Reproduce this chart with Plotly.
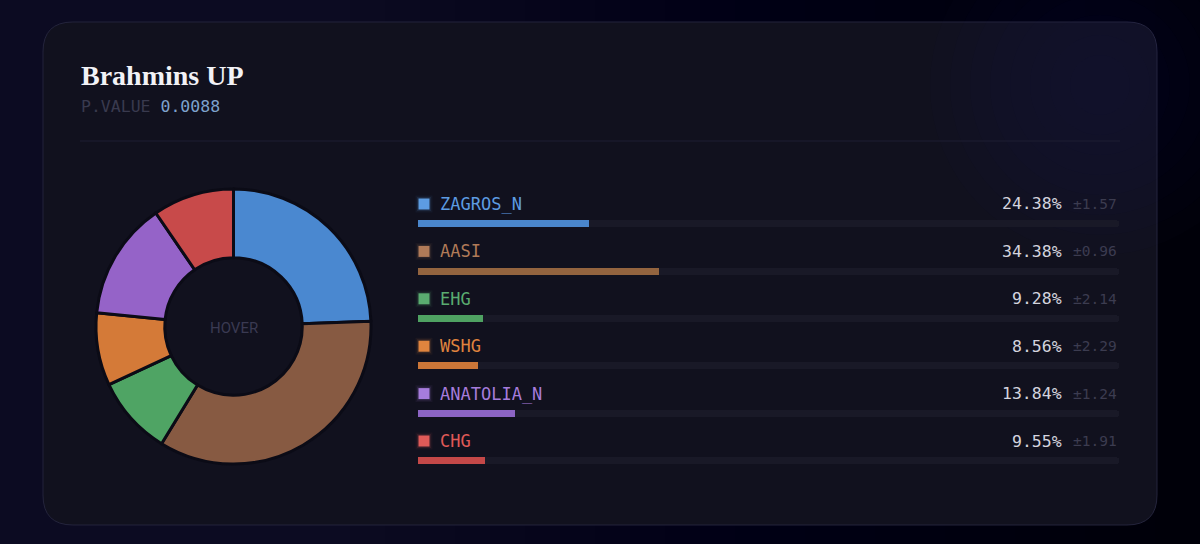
import plotly.graph_objects as go

# ---- data ----
title = "Brahmins UP"
p_value = "0.0088"
components = ["ZAGROS_N", "AASI", "EHG", "WSHG", "ANATOLIA_N", "CHG"]
values = [24.38, 34.38, 9.28, 8.56, 13.84, 9.55]
errors = [1.57, 0.96, 2.14, 2.29, 1.24, 1.91]

# ---- styles ----
slice_colors = ["#4a88d0", "#875a42", "#4fa464", "#d47a38", "#9563c8", "#c84a4a"]
bar_colors = ["#4a86cc", "#93643f", "#4fa262", "#cc7638", "#8c64c4", "#c44848"]
label_colors = ["#5d9ce2", "#b07a58", "#5aac70", "#e0843e", "#a67cdc", "#e05a58"]

W, H = 1200, 544
def px(x):
    return x / W
def py(y):
    return 1 - y / H

ROW0, STEP = 224, 47.4
N = len(components)
rows = list(range(N))

fig = go.Figure()

# donut
fig.add_trace(go.Pie(
    labels=components, values=values, sort=False, direction="clockwise",
    rotation=0, hole=0.5,
    marker=dict(colors=slice_colors, line=dict(color="#0b0b16", width=3)),
    textinfo="none", hoverinfo="label+percent", showlegend=False,
    domain=dict(x=[px(96), px(371)], y=[py(465), py(188)]),
))

# bar tracks
fig.add_trace(go.Bar(
    x=[100] * N, y=rows, orientation="h", width=0.15,
    marker=dict(color="#191927", cornerradius=4, line=dict(width=0)),
    hoverinfo="skip", showlegend=False, xaxis="x", yaxis="y",
))
# value bars
fig.add_trace(go.Bar(
    x=values, y=rows, orientation="h", width=0.15,
    marker=dict(color=bar_colors, cornerradius=4, line=dict(width=0)),
    hoverinfo="skip", showlegend=False, xaxis="x", yaxis="y",
))
# colour squares (soft glow + core)
sq_x = [6 / 701 * 100] * N
sq_y = [r - 20 / STEP for r in rows]
for size, op in [(17, 0.06), (14, 0.12)]:
    fig.add_trace(go.Scatter(
        x=sq_x, y=sq_y, mode="markers", cliponaxis=False,
        marker=dict(symbol="square", size=size, color=label_colors, opacity=op, line=dict(width=0)),
        hoverinfo="skip", showlegend=False,
    ))
fig.add_trace(go.Scatter(
    x=sq_x, y=sq_y, mode="markers", cliponaxis=False,
    marker=dict(symbol="square", size=11, color=label_colors, line=dict(width=0)),
    hoverinfo="skip", showlegend=False,
))

annotations = []
mono = "DejaVu Sans Mono"
for i, (name, v, e) in enumerate(zip(components, values, errors)):
    annotations.append(dict(x=0, y=i, xref="x", yref="y", xanchor="left", yanchor="middle",
                            xshift=20, yshift=20, showarrow=False, text=name,
                            font=dict(family=mono, size=17, color=label_colors[i])))
    annotations.append(dict(x=100, y=i, xref="x", yref="y", xanchor="right", yanchor="middle",
                            xshift=-55, yshift=20, showarrow=False, text=f"{v:.2f}%",
                            font=dict(family=mono, size=16.5, color="#d4d4de")))
    annotations.append(dict(x=100, y=i, xref="x", yref="y", xanchor="right", yanchor="middle",
                            xshift=0, yshift=20, showarrow=False, text=f"±{e:.2f}",
                            font=dict(family=mono, size=14.5, color="#3c3c50")))

annotations.append(dict(x=px(79), y=py(76), xref="paper", yref="paper", xanchor="left", yanchor="middle",
                        showarrow=False, text=f"<b>{title}</b>",
                        font=dict(family="Liberation Serif", size=28, color="#f2f2f6")))
annotations.append(dict(x=px(79), y=py(107), xref="paper", yref="paper", xanchor="left", yanchor="middle",
                        showarrow=False,
                        text=f"P.VALUE <span style='color:#7ea2cc'>{p_value}</span>",
                        font=dict(family=mono, size=16.5, color="#393a4e")))
annotations.append(dict(x=px(233.5), y=py(328), xref="paper", yref="paper", xanchor="center", yanchor="middle",
                        showarrow=False, text="HOVER",
                        font=dict(family="Roboto", size=15, color="#3a3a52")))

# card shape (rounded rect via quadratic curves, in paper coords)
x0, x1, y0, y1, r = 43, 1157, 22, 525, 30
def P(x, y):
    return f"{px(x):.5f},{py(y):.5f}"
card_path = (f"M {P(x0 + r, y0)} L {P(x1 - r, y0)} Q {P(x1, y0)} {P(x1, y0 + r)} "
             f"L {P(x1, y1 - r)} Q {P(x1, y1)} {P(x1 - r, y1)} L {P(x0 + r, y1)} "
             f"Q {P(x0, y1)} {P(x0, y1 - r)} L {P(x0, y0 + r)} Q {P(x0, y0)} {P(x0 + r, y0)} Z")

shapes = []
# smooth horizontal darkening of the page background toward the right
for k in range(24):
    shapes.append(dict(type="rect", xref="paper", yref="paper", x0=px(350 + k * 35), x1=1, y0=0, y1=1,
                       fillcolor="#05050a", opacity=0.03, line=dict(width=0), layer="below"))
shapes.append(dict(type="path", xref="paper", yref="paper", path=card_path,
                   fillcolor="#11111e", line=dict(color="#24243c", width=1), layer="below"))
# soft glow top-right of card
for rad in [170, 150, 130, 110, 90, 70, 50, 30]:
    shapes.append(dict(type="circle", xref="paper", yref="paper",
                       x0=px(1100 - rad), x1=px(1100 + rad), y0=py(85 + rad), y1=py(85 - rad),
                       fillcolor="#1e2c66", opacity=0.028, line=dict(width=0), layer="below"))
shapes.append(dict(type="line", xref="paper", yref="paper", x0=px(80), x1=px(1120),
                   y0=py(141), y1=py(141), line=dict(color="#1f1f33", width=1), layer="below"))

fig.update_layout(
    width=W, height=H, margin=dict(l=0, r=0, t=0, b=0),
    paper_bgcolor="#0c0b22", plot_bgcolor="rgba(0,0,0,0)",
    barmode="overlay", bargap=0,
    xaxis=dict(domain=[px(418), px(1119)], range=[0, 100], visible=False, fixedrange=True),
    yaxis=dict(domain=[py(ROW0 + (N - 0.5) * STEP), py(ROW0 - 0.5 * STEP)],
               range=[N - 0.5, -0.5], visible=False, fixedrange=True),
    annotations=annotations, shapes=shapes,
)

fig.write_html("out.html", config={"displayModeBar": False},
               post_script="document.body.style.margin='0';document.body.style.background='#0c0b22';")
